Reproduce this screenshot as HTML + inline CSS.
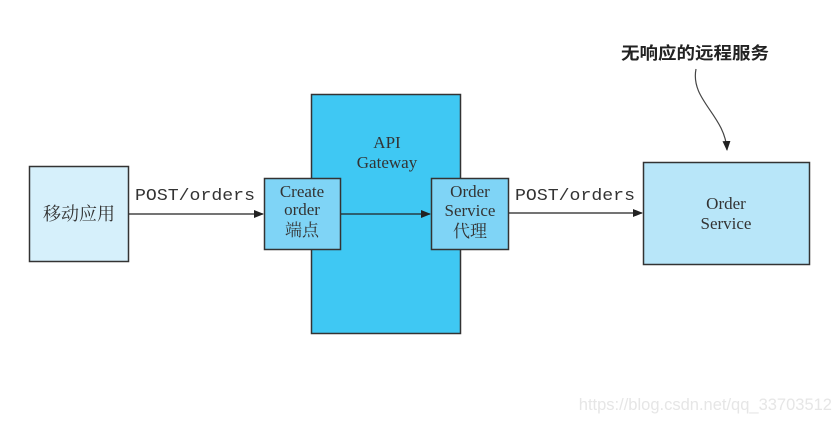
<!DOCTYPE html>
<html><head><meta charset="utf-8"><style>
html,body{margin:0;padding:0;background:#fff;}
svg{display:block;}
.s{font-family:"Liberation Serif","Noto Serif CJK SC",serif;fill:#333;}
.m{font-family:"Liberation Mono",monospace;fill:#333;}
.c{font-family:"Liberation Sans","Noto Sans CJK SC",sans-serif;fill:#222;}
</style></head><body>
<svg width="840" height="421" viewBox="0 0 840 421" xmlns="http://www.w3.org/2000/svg">
<defs><marker id="a" markerWidth="10" markerHeight="8" refX="9" refY="4" orient="auto" markerUnits="userSpaceOnUse"><path d="M0,0 L10,4 L0,8 Z" fill="#222"/></marker></defs>
<rect x="29.5" y="166.5" width="99" height="95" fill="#d6f0fb" stroke="#333" stroke-width="1.5"/>
<text class="s" x="79" y="220" font-size="18" text-anchor="middle">移动应用</text>
<rect x="311.5" y="94.5" width="149" height="239" fill="#3fc8f3" stroke="#333" stroke-width="1.5"/>
<text class="s" x="387" y="148" font-size="17" text-anchor="middle">API</text>
<text class="s" x="387" y="168" font-size="17" text-anchor="middle">Gateway</text>
<rect x="264.5" y="178.5" width="76" height="71" fill="#7fd4f6" stroke="#333" stroke-width="1.5"/>
<text class="s" x="302" y="197" font-size="17" text-anchor="middle">Create</text>
<text class="s" x="302" y="215" font-size="17" text-anchor="middle">order</text>
<text class="s" x="302" y="236" font-size="17" text-anchor="middle">端点</text>
<rect x="431.5" y="178.5" width="77" height="71" fill="#7fd4f6" stroke="#333" stroke-width="1.5"/>
<text class="s" x="470" y="197" font-size="17" text-anchor="middle">Order</text>
<text class="s" x="470" y="216" font-size="17" text-anchor="middle">Service</text>
<text class="s" x="470" y="237" font-size="17" text-anchor="middle">代理</text>
<rect x="643.5" y="162.5" width="166" height="102" fill="#b8e6f9" stroke="#333" stroke-width="1.5"/>
<text class="s" x="726" y="209" font-size="17" text-anchor="middle">Order</text>
<text class="s" x="726" y="229" font-size="17" text-anchor="middle">Service</text>
<line x1="129" y1="214" x2="263" y2="214" stroke="#222" stroke-width="1.3" marker-end="url(#a)"/>
<text class="m" x="135" y="200" font-size="17" textLength="120" lengthAdjust="spacingAndGlyphs">POST/orders</text>
<line x1="341" y1="214" x2="430" y2="214" stroke="#222" stroke-width="1.3" marker-end="url(#a)"/>
<line x1="509" y1="213" x2="642" y2="213" stroke="#222" stroke-width="1.3" marker-end="url(#a)"/>
<text class="m" x="515" y="200" font-size="17" textLength="120" lengthAdjust="spacingAndGlyphs">POST/orders</text>
<text class="c" x="695" y="59" font-size="17" font-weight="bold" text-anchor="middle" textLength="148" lengthAdjust="spacingAndGlyphs">无响应的远程服务</text>
<path d="M696,69 C690,100 725,115 727,150" fill="none" stroke="#444" stroke-width="1.2" marker-end="url(#a)"/>
<text x="832" y="410" font-family="Liberation Sans,sans-serif" font-size="16.5" fill="#e6e6e6" text-anchor="end">https://blog.csdn.net/qq_33703512</text>
</svg>
</body></html>
